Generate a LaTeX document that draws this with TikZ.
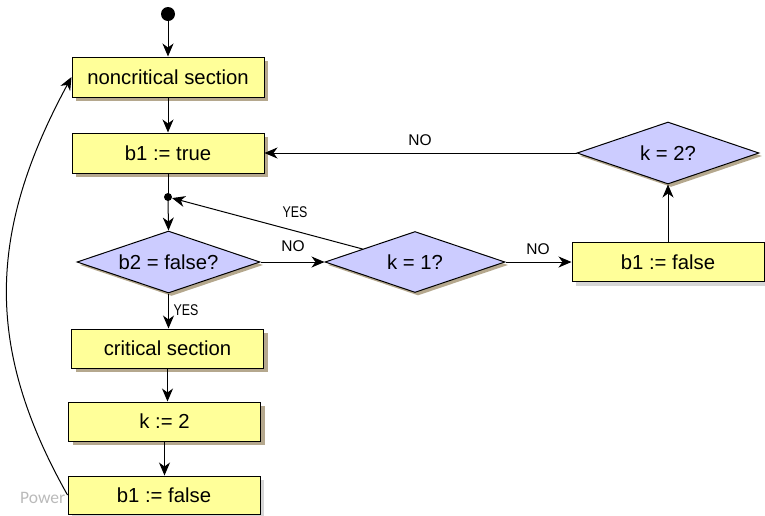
\documentclass[tikz,border=0pt]{standalone}
\usepackage{fontspec}
\usepackage{graphicx}
\setmainfont{Liberation Sans}
\newfontfamily\wmfont{Carlito}
\usetikzlibrary{shapes.geometric,shadows,arrows.meta,calc}
\definecolor{boxyellow}{RGB}{255,255,153}
\definecolor{dialilac}{RGB}{204,204,255}
\definecolor{shtan}{RGB}{181,168,142}
\definecolor{shgray}{RGB}{214,214,214}
\begin{document}
\begin{tikzpicture}[x=1pt,y=-1pt,
  boxbase/.style={draw=black, line width=1pt, fill=boxyellow, minimum width=192pt,
    minimum height=40pt, inner sep=0pt, font=\fontsize{20.3}{23}\selectfont},
  box/.style={boxbase, drop shadow={shadow xshift=4pt, shadow yshift=-4pt, fill=shtan, opacity=1}},
  graybox/.style={boxbase, drop shadow={shadow xshift=4pt, shadow yshift=-4pt, fill=shgray, opacity=1}},
  dia/.style={diamond, aspect=3, draw=black, line width=1pt, fill=dialilac, inner sep=0pt,
    font=\fontsize{20.3}{23}\selectfont,
    drop shadow={shadow xshift=3pt, shadow yshift=-3pt, fill=shtan, opacity=1}},
  dot/.style={circle, fill=black, inner sep=0pt},
  arr/.style={-{Stealth[length=13pt,width=11pt,inset=4pt]}, line width=1pt},
  ln/.style={line width=1pt},
  lbl/.style={font=\fontsize{15.5}{17}\selectfont, inner sep=0pt}
]
\path[use as bounding box, clip] (0,0) rectangle (765,515);

% watermark fragment
\node[anchor=base west, font=\wmfont\fontsize{17.5}{19}\selectfont, text=black!27, inner sep=0pt] (wm) at (20,503) {Power};

% nodes
\node[dot, minimum size=14pt] (start) at (168,14) {};
\node[box] (nc) at (168,77) {noncritical section};
\node[box] (bt) at (168,153) {b1 := true};
\node[dot, minimum size=8pt] (jn) at (168,197) {};
\node[dia, minimum width=183pt, minimum height=62pt] (b2) at (168.5,262) {b2 = false?};
\node[dia, minimum width=180pt, minimum height=61pt] (k1) at (415,262) {k = 1?};
\node[graybox, minimum height=39pt] (rb) at (668,262) {b1 := false};
\node[dia, minimum width=182pt, minimum height=62pt] (k2) at (668,153) {k = 2?};
\node[box, minimum height=39pt] (cs) at (167.5,348.5) {critical section};
\node[box, minimum height=39pt] (kk) at (164.5,421.5) {k := 2};
\node[graybox, minimum height=38pt] (bb) at (164,495) {b1 := false};

% connectors
\draw[arr] (start) -- (nc.north);
\draw[arr] (nc.south) -- (bt.north);
\draw[ln] (bt.south) -- (jn.center);
\draw[arr] (jn.center) -- (b2.north);
\draw[arr] (b2.south) -- (b2.south |- cs.north);
\draw[arr] (cs.south) -- (cs.south |- kk.north);
\draw[arr] (kk.south) -- (kk.south |- bb.north);
\draw[arr] (b2.east) -- (k1.west);
\draw[arr] (k1.east) -- (rb.west);
\draw[arr] (rb.north) -- (k2.south);
\draw[arr] (k2.west) -- (k2.west -| bt.east);
\coordinate (k1ul) at ($(k1.west)!0.42!(k1.north)$);
\draw[arr] (k1ul) -- (jn);
\draw[arr] (bb.west) .. controls (-14,350) and (-14,235) .. (nc.west);

% labels
\node[lbl] (lno1) at (420,140) {NO};
\node[lbl] (lyes1) at (295,212) {\scalebox{0.8}[1]{YES}};
\node[lbl] (lno2) at (293,246) {NO};
\node[lbl] (lno3) at (538,249) {NO};
\node[lbl] (lyes2) at (186,310) {\scalebox{0.8}[1]{YES}};
\end{tikzpicture}
\end{document}
